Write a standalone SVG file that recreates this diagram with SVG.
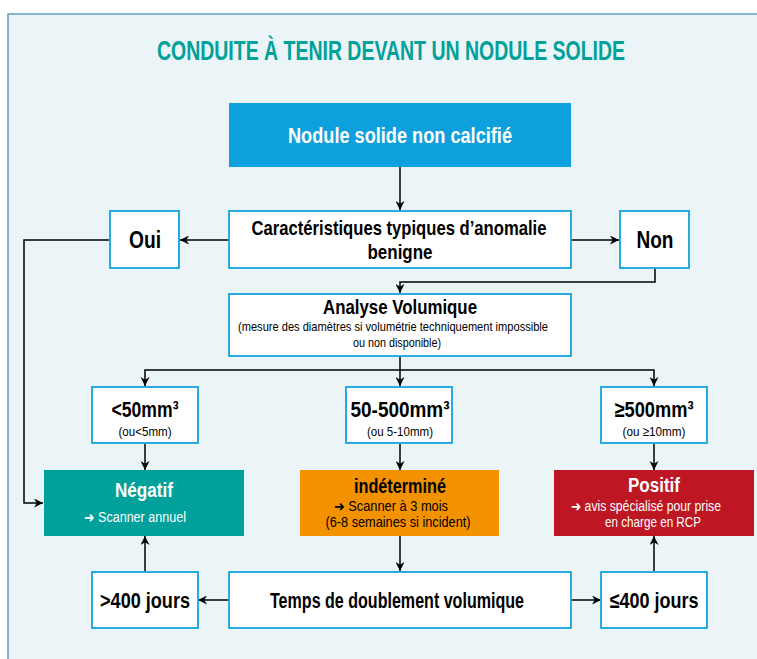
<svg xmlns="http://www.w3.org/2000/svg" width="757" height="659" viewBox="0 0 757 659">
<defs>
<marker id="ah" viewBox="0 0 10 10" refX="10" refY="5" markerWidth="9" markerHeight="9" markerUnits="userSpaceOnUse" orient="auto">
<path d="M0,0 L10,5 L0,10 L3,5 z" fill="#000"/>
</marker>
<style>
.t{font-family:"Liberation Sans",Arial,sans-serif;font-weight:bold;text-anchor:middle;}
.s{font-family:"Liberation Sans",Arial,sans-serif;text-anchor:middle;}
.wb{fill:#fff;stroke:#29abe2;stroke-width:2;}
.c{fill:none;stroke:#000;stroke-width:1.5;}
.ca{fill:none;stroke:#000;stroke-width:1.5;marker-end:url(#ah);}
.ar{font-family:"DejaVu Sans",sans-serif;}
</style>
</defs>
<rect x="0" y="0" width="757" height="659" fill="#fff"/>
<rect x="8" y="14" width="760" height="660" fill="#ebf5f7" stroke="#5d9ec0" stroke-width="1.5"/>
<text class="t" transform="translate(391,60) scale(0.62,1)" x="0" y="0" font-size="28" fill="#00a19a" textLength="755" lengthAdjust="spacingAndGlyphs">CONDUITE À TENIR DEVANT UN NODULE SOLIDE</text>

<g id="connectors">
<path class="ca" d="M400,167 V210"/>
<path class="ca" d="M229,240 H180"/>
<path class="ca" d="M571,240 H619"/>
<path class="ca" d="M110,240 H24 V503 H43"/>
<path class="ca" d="M655,268 V282 H400 V293"/>
<path class="c" d="M400,356 V370"/>
<path class="ca" d="M400,370 H145 V386"/>
<path class="ca" d="M400,370 V386"/>
<path class="ca" d="M400,370 H654 V386"/>
<path class="ca" d="M145,443 V470"/>
<path class="ca" d="M400,443 V470"/>
<path class="ca" d="M654,443 V470"/>
<path class="ca" d="M400,536 V571"/>
<path class="ca" d="M229,600 H198"/>
<path class="ca" d="M571,600 H601"/>
<path class="ca" d="M145,571 V536"/>
<path class="ca" d="M654,571 V536"/>
</g>

<g id="n-nodule">
<rect x="229" y="103" width="342" height="64" fill="#0ea0dc"/>
<text class="t" x="400" y="143" font-size="22" fill="#fff" textLength="224" lengthAdjust="spacingAndGlyphs">Nodule solide non calcifié</text>
</g>
<g id="n-caract">
<rect class="wb" x="229" y="211" width="342" height="57"/>
<text class="t" x="399" y="235" font-size="21" textLength="295" lengthAdjust="spacingAndGlyphs">Caractéristiques typiques d’anomalie</text>
<text class="t" x="400" y="259" font-size="21" textLength="65" lengthAdjust="spacingAndGlyphs">benigne</text>
</g>
<g id="n-oui">
<rect class="wb" x="110" y="211" width="69" height="57"/>
<text class="t" x="145" y="248" font-size="23" textLength="32" lengthAdjust="spacingAndGlyphs">Oui</text>
</g>
<g id="n-non">
<rect class="wb" x="620" y="211" width="69" height="57"/>
<text class="t" x="655" y="248" font-size="23" textLength="37" lengthAdjust="spacingAndGlyphs">Non</text>
</g>
<g id="n-analyse">
<rect class="wb" x="229" y="294" width="342" height="62"/>
<text class="t" x="400" y="314" font-size="21" textLength="154" lengthAdjust="spacingAndGlyphs">Analyse Volumique</text>
<text class="s" x="393" y="331" font-size="13.5" textLength="310" lengthAdjust="spacingAndGlyphs">(mesure des diamètres si volumétrie techniquement impossible</text>
<text class="s" x="397" y="347" font-size="13.5" textLength="88" lengthAdjust="spacingAndGlyphs">ou non disponible)</text>
</g>
<g id="n-lt50">
<rect class="wb" x="92" y="387" width="106" height="56"/>
<text class="t" x="145" y="417" font-size="22" textLength="67" lengthAdjust="spacingAndGlyphs">&lt;50mm³</text>
<text class="s" x="145" y="436" font-size="13.5" textLength="53" lengthAdjust="spacingAndGlyphs">(ou&lt;5mm)</text>
</g>
<g id="n-50-500">
<rect class="wb" x="346" y="387" width="106" height="56"/>
<text class="t" x="400" y="417" font-size="22" textLength="99" lengthAdjust="spacingAndGlyphs">50-500mm³</text>
<text class="s" x="400" y="436" font-size="13.5" textLength="66" lengthAdjust="spacingAndGlyphs">(ou 5-10mm)</text>
</g>
<g id="n-ge500">
<rect class="wb" x="601" y="387" width="106" height="56"/>
<text class="t" x="654" y="417" font-size="22" textLength="79" lengthAdjust="spacingAndGlyphs">≥500mm³</text>
<text class="s" x="654" y="436" font-size="13.5" textLength="63" lengthAdjust="spacingAndGlyphs">(ou ≥10mm)</text>
</g>
<g id="n-negatif">
<rect x="44" y="470" width="200" height="66" fill="#00a19a"/>
<text class="t" x="144" y="497" font-size="20" fill="#fff" textLength="58" lengthAdjust="spacingAndGlyphs">Négatif</text>
<text class="s" x="135" y="522" font-size="14" fill="#fff" textLength="102" lengthAdjust="spacingAndGlyphs"><tspan class="ar">➜</tspan> Scanner annuel</text>
</g>
<g id="n-indet">
<rect x="300" y="470" width="199" height="66" fill="#f39200"/>
<text class="t" x="400" y="493" font-size="20" textLength="92" lengthAdjust="spacingAndGlyphs">indéterminé</text>
<text class="s" x="391" y="511" font-size="14" textLength="114" lengthAdjust="spacingAndGlyphs"><tspan class="ar">➜</tspan> Scanner à 3 mois</text>
<text class="s" x="398" y="527" font-size="14" textLength="145" lengthAdjust="spacingAndGlyphs">(6-8 semaines si incident)</text>
</g>
<g id="n-positif">
<rect x="554" y="470" width="200" height="66" fill="#be1622"/>
<text class="t" x="654" y="492" font-size="20" fill="#fff" textLength="52" lengthAdjust="spacingAndGlyphs">Positif</text>
<text class="s" x="646" y="511" font-size="14" fill="#fff" textLength="150" lengthAdjust="spacingAndGlyphs"><tspan class="ar">➜</tspan> avis spécialisé pour prise</text>
<text class="s" x="653" y="527" font-size="14" fill="#fff" textLength="96" lengthAdjust="spacingAndGlyphs">en charge en RCP</text>
</g>
<g id="n-gt400">
<rect class="wb" x="92" y="572" width="106" height="56"/>
<text class="t" x="145" y="608" font-size="22" textLength="90" lengthAdjust="spacingAndGlyphs">&gt;400 jours</text>
</g>
<g id="n-temps">
<rect class="wb" x="229" y="572" width="342" height="56"/>
<text class="t" x="397" y="608" font-size="22" textLength="254" lengthAdjust="spacingAndGlyphs">Temps de doublement volumique</text>
</g>
<g id="n-le400">
<rect class="wb" x="601" y="572" width="106" height="56"/>
<text class="t" x="654" y="608" font-size="22" textLength="89" lengthAdjust="spacingAndGlyphs">≤400 jours</text>
</g>
</svg>
